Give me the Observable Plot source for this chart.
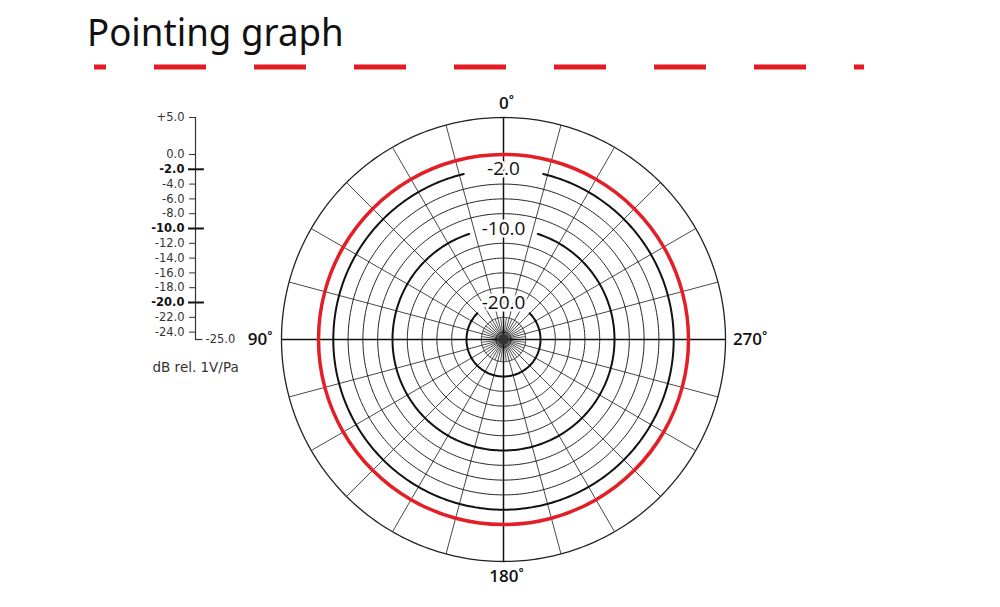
<!DOCTYPE html>
<html>
<head>
<meta charset="utf-8">
<script src="https://cdn.jsdelivr.net/npm/d3@7"></script>
<script src="https://cdn.jsdelivr.net/npm/@observablehq/plot@0.6"></script>
<style>
  body { margin: 0; background: #fff; }
  #head { position: relative; width: 1000px; height: 90px; }
  #title { position: absolute; left: 87px; top: 5px; font: 38px "Noto Sans", sans-serif; color: #111;
           display: inline-block; transform: scaleX(0.965); transform-origin: left top; white-space: nowrap; }
  #rule { position: absolute; left: 0; top: 63px; }
</style>
</head>
<body>
<div id="head">
  <div id="title">Pointing graph</div>
  <svg id="rule" width="1000" height="8">
    <line x1="94" x2="864" y1="4" y2="4" stroke="#e31b23" stroke-width="5" stroke-dasharray="52 48" stroke-dashoffset="40"/>
  </svg>
</div>
<div id="plot"></div>
<script>
// dB scale of the polar grid: centre = -25 dB, outer circle = +5 dB
const centreDb = -25;
const outerDb = 5;
const thinRings = [-4, -6, -8, -12, -14, -16, -18, -22, -24];
const boldRings = [-2, -10, -20];
const boldRingLabels = ["-2.0", "-10.0", "-20.0"];

// measured pattern (omnidirectional, 0 dB all round)
const patternAngles = [0, 15, 30, 45, 60, 75, 90, 105, 120, 135, 150, 165,
                       180, 195, 210, 225, 240, 255, 270, 285, 300, 315, 330, 345];
const patternDb = [0, 0, 0, 0, 0, 0, 0, 0, 0, 0, 0, 0,
                   0, 0, 0, 0, 0, 0, 0, 0, 0, 0, 0, 0];

const spokeAngles = [15, 30, 45, 60, 75, 105, 120, 135, 150, 165,
                     195, 210, 225, 240, 255, 285, 300, 315, 330, 345];
const axisAngles = [0, 90, 180, 270];
const innerSpokeAngles = [7.5, 22.5, 37.5, 52.5, 67.5, 82.5, 97.5, 112.5, 127.5, 142.5, 157.5, 172.5,
                          187.5, 202.5, 217.5, 232.5, 247.5, 262.5, 277.5, 292.5, 307.5, 322.5, 337.5, 352.5];
const innerSpokeDb = -22;
const angleLabels = ["0˚", "90˚", "180˚", "270˚"];

// left dB scale
const scaleTicks = [5, 0, -4, -6, -8, -12, -14, -16, -18, -22, -24];
const scaleTickLabels = ["+5.0", "0.0", "-4.0", "-6.0", "-8.0", "-12.0", "-14.0", "-16.0", "-18.0", "-22.0", "-24.0"];
const scaleBoldTicks = [-2, -10, -20];
const scaleBoldLabels = ["-2.0", "-10.0", "-20.0"];
const scaleEnd = [-25];
const scaleEndLabel = ["-25.0"];
const unitLabel = "dB rel. 1V/Pa";

// ---- helpers (polar -> cartesian in "radius units", 1 unit = 1 dB) ----
const rad = db => db - centreDb;
const toX = (a, r) => -r * Math.sin(a * Math.PI / 180);   // 90° on the left
const toY = (a, r) => r * Math.cos(a * Math.PI / 180);    // 0° on top
const R = rad(outerDb);

// layout
const cx = 503, cy = 249, pxR = 222;
const axisX = (195 - cx) / (pxR / R);   // position of the left scale, in radius units
const gapHalf = [13.5, 18, 45];         // label gaps in the bold rings (degrees)
const font = "'Open Sans', 'Noto Sans', sans-serif";
const scaleFont = "'DejaVu Sans', sans-serif";

const circlePts = (db, from = 0, to = 360) =>
  d3.range(from, to + 0.5, 1).map(a => ({x: toX(a, rad(db)), y: toY(a, rad(db)), db}));

const thinPts = thinRings.flatMap(db => circlePts(db));
const boldPts = boldRings.flatMap((db, i) => circlePts(db, gapHalf[i], 360 - gapHalf[i]));
const outerPts = circlePts(outerDb);
const patternPts = patternAngles.map((a, i) => ({x: toX(a, rad(patternDb[i])), y: toY(a, rad(patternDb[i]))}));

const labelPos = [
  {r: R + 1.9, anchor: "middle", dx: 3},
  {r: R + 1.2, anchor: "end", dx: 0},
  {r: R + 2.0, anchor: "middle", dx: 3},
  {r: R + 1.0, anchor: "start", dx: 0}
];

const plot = Plot.plot({
  width: 1000,
  height: 517,
  margin: 0,
  style: {fontFamily: font, color: "#222", background: "white"},
  x: {domain: [-R, R], range: [cx - pxR, cx + pxR], axis: null},
  y: {domain: [-R, R], range: [cy + pxR, cy - pxR], axis: null},
  marks: [
    // inner dense spokes
    Plot.link(innerSpokeAngles, {x1: () => 0, y1: () => 0, x2: a => toX(a, rad(innerSpokeDb)), y2: a => toY(a, rad(innerSpokeDb)), stroke: "#333", strokeWidth: 0.8}),
    // 15° spokes
    Plot.link(spokeAngles, {x1: () => 0, y1: () => 0, x2: a => toX(a, R), y2: a => toY(a, R), stroke: "#333", strokeWidth: 0.9}),
    Plot.link(axisAngles, {x1: () => 0, y1: () => 0, x2: a => toX(a, R), y2: a => toY(a, R), stroke: "#111", strokeWidth: 1.5}),
    // rings
    Plot.line(thinPts, {x: "x", y: "y", z: "db", stroke: "#222", strokeWidth: 1}),
    Plot.line(boldPts, {x: "x", y: "y", z: "db", stroke: "#111", strokeWidth: 2}),
    Plot.line(outerPts, {x: "x", y: "y", stroke: "#222", strokeWidth: 1.3}),
    // centre hub
    Plot.dot([0], {x: () => 0, y: () => 0, r: 5, fill: "#333"}),
    // response pattern
    Plot.line(patternPts, {x: "x", y: "y", curve: "catmull-rom-closed", stroke: "#e41e26", strokeWidth: 3.5}),
    // ring labels
    Plot.text(boldRings, {x: () => 0, y: d => rad(d), text: (d, i) => boldRingLabels[i], fontSize: 19, fontWeight: 500,
      fill: "#111", stroke: "white", strokeWidth: 5, paintOrder: "stroke"}),
    // angle labels
    ...axisAngles.map((a, i) => Plot.text([a], {
      x: d => toX(d, labelPos[i].r), y: d => toY(d, labelPos[i].r), text: () => angleLabels[i],
      textAnchor: labelPos[i].anchor, dx: labelPos[i].dx, fontSize: 17, fontWeight: 600, fill: "#111"
    })),
    // left dB scale
    Plot.ruleX([axisX], {y1: rad(outerDb), y2: rad(centreDb), stroke: "#333", strokeWidth: 1.2}),
    Plot.ruleY(scaleEnd, {y: d => rad(d), x1: axisX, x2: axisX + 1, stroke: "#333", strokeWidth: 1.2}),
    Plot.ruleY(scaleTicks, {y: d => rad(d), x1: axisX - 0.8, x2: axisX, stroke: "#333", strokeWidth: 1}),
    Plot.ruleY(scaleBoldTicks, {y: d => rad(d), x1: axisX - 0.95, x2: axisX + 1.2, stroke: "#111", strokeWidth: 2}),
    Plot.text(scaleTicks, {x: () => axisX, y: d => rad(d), text: (d, i) => scaleTickLabels[i], textAnchor: "end", dx: -11,
      fontSize: 11.5, fontFamily: scaleFont, fill: "#333"}),
    Plot.text(scaleBoldTicks, {x: () => axisX, y: d => rad(d), text: (d, i) => scaleBoldLabels[i], textAnchor: "end", dx: -11,
      fontSize: 11.5, fontFamily: scaleFont, fontWeight: "bold", fill: "#111"}),
    Plot.text(scaleEnd, {x: () => axisX, y: d => rad(d), text: (d, i) => scaleEndLabel[i], textAnchor: "start", dx: 10,
      fontSize: 11.5, fontFamily: scaleFont, fill: "#333"}),
    Plot.text([unitLabel], {x: () => axisX, y: () => rad(centreDb), text: d => d, textAnchor: "start", dx: -43, dy: 28,
      fontSize: 13.5, fontFamily: scaleFont, fill: "#333"})
  ]
});

document.getElementById("plot").appendChild(plot);
</script>
</body>
</html>
